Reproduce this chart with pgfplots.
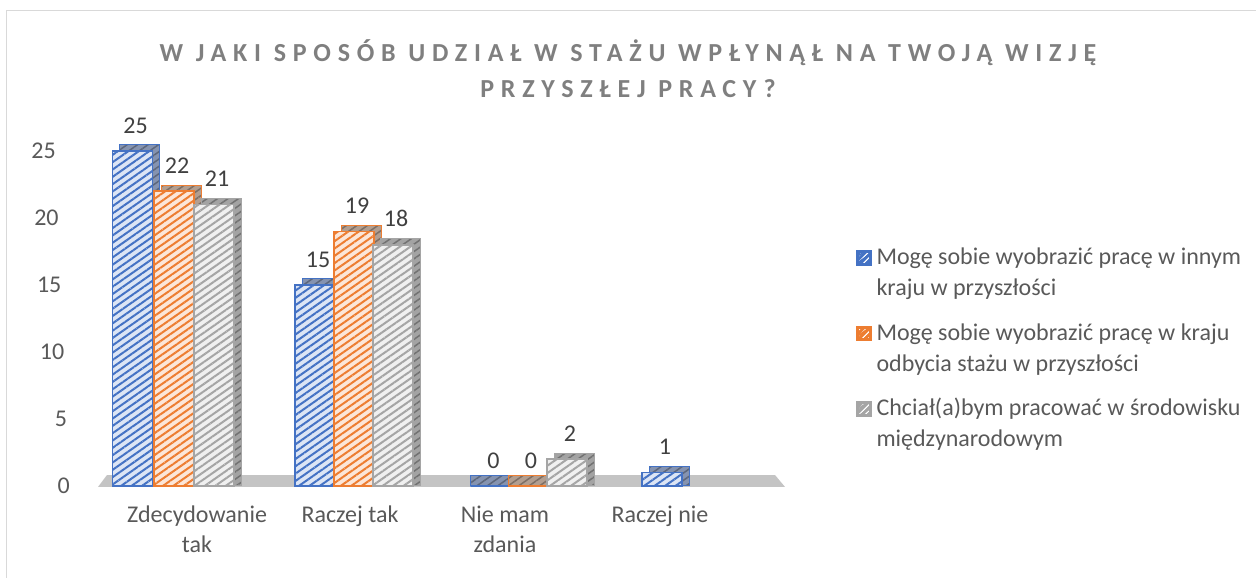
\documentclass[border=0pt]{standalone}
\usepackage{fontspec}
\setmainfont{Carlito}
\newfontfamily\titlefont[LetterSpace=26]{Carlito}
\usepackage{pgfplots}
\pgfplotsset{compat=1.18}
\usepackage{pgfplotstable}
\usetikzlibrary{patterns.meta}
\definecolor{cblue}{HTML}{4472C4}
\definecolor{corange}{HTML}{ED7D31}
\definecolor{cgray}{HTML}{A5A5A5}
\definecolor{fcblue}{HTML}{DCE5F5}
\definecolor{fcorange}{HTML}{FCE6D8}
\definecolor{fcgray}{HTML}{F0F0F0}
\definecolor{scblue}{HTML}{8593B0}
\definecolor{scorange}{HTML}{B29E90}
\definecolor{scgray}{HTML}{A3A3A3}
\definecolor{floorgray}{HTML}{C4C4C4}
\definecolor{textgray}{HTML}{595959}
\definecolor{labelgray}{HTML}{404040}
\definecolor{titlegray}{HTML}{7F7F7F}
\definecolor{bordergray}{HTML}{D9D9D9}

\pgfplotstableread{
x v
132.5 25
315 15
490.5 0
662 1
}\tblue
\pgfplotstableread{
x v
174 22
354 19
528 0
}\torange
\pgfplotstableread{
x v
214 21
393 18
567 2
}\tgray

\pgfplotsset{
  front/.style={ybar, bar width=40, bar shift=0pt, draw=#1, line width=1.5pt, fill=f#1,
    postaction={pattern={Lines[angle=35,distance=6pt,line width=2pt]}, pattern color=#1},
    nodes near coords,
    nodes near coords style={font=\fontsize{24}{28}\selectfont, text=labelgray, anchor=south, inner sep=0pt, yshift=17pt, xshift=3pt},
    legend image code/.code={\fill[#1] (0pt,0pt) rectangle (14pt,14pt);
      \fill[pattern={Lines[angle=45,distance=4pt,line width=1.2pt]}, pattern color=white] (1.5pt,1.5pt) rectangle (12.5pt,12.5pt);}},
  shadow/.style={ybar, bar width=40, bar shift=0pt, draw=#1, line width=1pt, fill=s#1, forget plot,
    postaction={pattern={Lines[angle=35,distance=6pt,line width=1.5pt]}, pattern color=s#1!70!black}},
}
\newcommand{\sx}{\thisrow{v}==0 ? \thisrow{x} : \thisrow{x}+7}
\newcommand{\sy}{\thisrow{v}==0 ? 0.82 : \thisrow{v}+0.45}

\begin{document}
\begin{tikzpicture}
\useasboundingbox (0,0) rectangle (1256pt,578pt);
\draw[color=bordergray, line width=1.3pt] (6.5pt,0pt) -- (6.5pt,567.5pt) -- (1256pt,567.5pt);
\node[anchor=base, inner sep=0pt, text=titlegray] at (628pt,516pt)
  {\titlefont\bfseries\fontsize{26}{36}\selectfont\begin{tabular}[t]{@{}c@{}}W JAKI SPOSÓB UDZIAŁ W STAŻU WPŁYNĄŁ NA TWOJĄ WIZJĘ\\PRZYSZŁEJ PRACY?\end{tabular}};
\begin{axis}[
  at={(70pt,78.6pt)}, anchor=south west,
  scale only axis, width=730pt, height=375.2pt,
  xmin=70, xmax=800, ymin=-1, ymax=27,
  clip=false,
  axis line style={draw=none}, tick style={draw=none},
  ytick={0,5,...,25},
  xtick={197,350,505,660},
  xticklabels={{\begin{tabular}[t]{@{}c@{}}Zdecydowanie\\tak\end{tabular}},{Raczej tak},{\begin{tabular}[t]{@{}c@{}}Nie mam\\zdania\end{tabular}},{Raczej nie}},
  /pgf/number format/assume math mode=true,
  tick label style={font=\fontsize{24}{30}\selectfont, text=textgray},
  yticklabel style={anchor=east, inner sep=0pt, xshift={0pt-2.8pt*\ticknum}},
  xticklabel style={anchor=base, inner sep=0pt, yshift=-23.6pt},
  legend style={at={(axis description cs:1.0767,0.6826)}, anchor=north west, draw=none, fill=none,
    inner sep=0pt, outer sep=0pt, row sep=52.3pt, column sep=5pt,
    font=\fontsize{24}{31}\selectfont, text=textgray, cells={anchor=base west}, nodes={inner sep=0pt}},
]
\addplot[fill=floorgray, draw=none, forget plot] coordinates {(98,-0.07) (785,-0.07) (775,0.82) (107,0.82)} -- cycle;
\addplot[shadow=cblue] table[x expr={\sx}, y expr={\sy}]{\tblue};
\addplot[shadow=corange] table[x expr={\sx}, y expr={\sy}]{\torange};
\addplot[shadow=cgray] table[x expr={\sx}, y expr={\sy}]{\tgray};
\addplot[front=cblue] table[x=x, y=v]{\tblue};
\addlegendentry{\begin{tabular}[t]{@{}l@{}}Mogę sobie wyobrazić pracę w innym\\kraju w przyszłości\end{tabular}}
\addplot[front=corange] table[x=x, y=v]{\torange};
\addlegendentry{\begin{tabular}[t]{@{}l@{}}Mogę sobie wyobrazić pracę w kraju\\odbycia stażu w przyszłości\end{tabular}}
\addplot[front=cgray] table[x=x, y=v]{\tgray};
\addlegendentry{\begin{tabular}[t]{@{}l@{}}Chciał(a)bym pracować w środowisku\\międzynarodowym\end{tabular}}
\end{axis}
\end{tikzpicture}
\end{document}
